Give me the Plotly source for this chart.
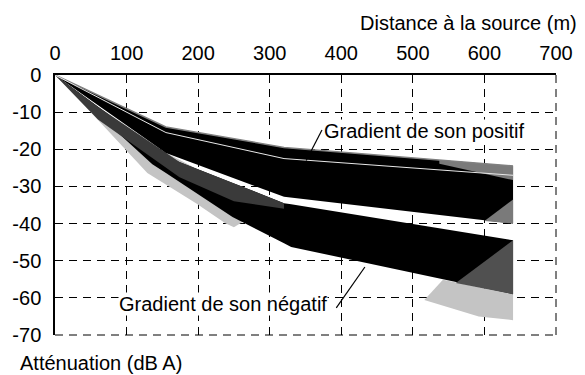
import numpy as np
import plotly.graph_objects as go

# Distance from the source (m) and attenuation bounds (dB A)
distance = [0, 155, 320, 640]
pos_top = [0, -14.0, -19.5, -24.5]
pos_mid = [0, -15.5, -22.5, -27.0]
pos_bottom = [0, -21.0, -32.8, -40.0]
neg_top = [0, -22.0, -34.5, -44.5]
neg_bottom_x = [0, 136, 248, 330, 640]
neg_bottom = [0, -24.0, -38.2, -46.3, -59.0]

# Scatter of the negative-gradient results close to the source
near_x = [0, 51, 129, 197, 238, 250, 262]
near_low = [0, -10.2, -26.4, -34.5, -39.9, -41.0, -39.6]
inner_x = [0, 60, 174, 250, 320]
inner_low = [0, -12.0, -27.5, -34.0, -36.0]

# Scatter at the far end of the range
far_x = [516, 542, 640, 640, 592]
far_y = [-60.6, -55.1, -59.0, -66.0, -65.0]
far_dark_x = [560, 640, 640]
far_dark_y = [-56.0, -44.5, -59.0]
pos_far_top_x = [537, 640, 640, 537]
pos_far_top_y = [-22.9, -24.5, -28.3, -23.9]
pos_far_low_x = [600, 640, 640]
pos_far_low_y = [-39.3, -40.0, -33.5]

x_ticks = [0, 100, 200, 300, 400, 500, 600, 700]
x_labels = ["0", "100", "200", "300", "400", "500", "600", "700"]
y_ticks = [0, -10, -20, -30, -40, -50, -60, -70]
y_labels = ["0", "-10", "-20", "-30", "-40", "-50", "-60", "-70"]

LIGHT = "#c4c4c4"
MID = "#7a7a7a"
DARK = "#3a3a3a"
BLACK = "#000000"


def band(xs, top, bottom, color):
    return go.Scatter(
        x=list(xs) + list(xs)[::-1],
        y=list(top) + list(bottom)[::-1],
        fill="toself", fillcolor=color, mode="lines",
        line=dict(width=0, color=color), hoverinfo="skip",
    )


def poly(xs, ys, color):
    return go.Scatter(x=xs, y=ys, fill="toself", fillcolor=color, mode="lines",
                      line=dict(width=0, color=color), hoverinfo="skip")


fig = go.Figure()

# negative gradient: spread, band, then inner shading
fig.add_trace(band(near_x, np.interp(near_x, distance, neg_top), near_low, LIGHT))
fig.add_trace(poly(far_x, far_y, LIGHT))
neg_x = sorted(set(distance) | set(neg_bottom_x))
fig.add_trace(band(neg_x, np.interp(neg_x, distance, neg_top),
                   np.interp(neg_x, neg_bottom_x, neg_bottom), BLACK))
fig.add_trace(band(inner_x, np.interp(inner_x, distance, neg_top), inner_low, DARK))
fig.add_trace(poly(far_dark_x, far_dark_y, "#505050"))

# positive gradient band
fig.add_trace(band(distance, pos_top, pos_bottom, BLACK))
fig.add_trace(poly(pos_far_top_x, pos_far_top_y, MID))
fig.add_trace(poly(pos_far_low_x, pos_far_low_y, MID))
fig.add_trace(go.Scatter(x=distance, y=pos_top, mode="lines",
                         line=dict(color="#808080", width=1.5), hoverinfo="skip"))
fig.add_trace(go.Scatter(x=distance, y=pos_mid, mode="lines",
                         line=dict(color="#e8e8e8", width=1), hoverinfo="skip"))

FONT = "Liberation Sans, Arial, Helvetica, sans-serif"
DASH = "8px,6px"

fig.update_layout(
    width=585, height=375,
    margin=dict(l=51, r=23, t=75, b=40),
    paper_bgcolor="white", plot_bgcolor="white",
    showlegend=False,
    font=dict(family=FONT, size=20, color="black"),
    annotations=[
        dict(text="Distance à la source (m)", xref="paper", yref="paper",
             x=1.045, y=1.2, xanchor="right", yanchor="middle", showarrow=False),
        dict(text="Atténuation (dB A)", xref="paper", yref="paper",
             x=-0.074, y=-0.108, xanchor="left", yanchor="middle", showarrow=False),
        dict(text="Gradient de son positif", x=374, y=-15.1, xanchor="left",
             yanchor="middle", showarrow=False, bgcolor="white", borderpad=0),
        dict(text="Gradient de son négatif", x=235, y=-61.7, xanchor="center",
             yanchor="middle", showarrow=False, bgcolor="white", borderpad=0),
    ],
    shapes=[
        dict(type="line", x0=373, y0=-14.8, x1=351, y1=-23.0,
             line=dict(color="black", width=1.2)),
        dict(type="line", x0=393, y0=-62.7, x1=433, y1=-51.7,
             line=dict(color="black", width=1.2)),
        # dashed right and bottom edges of the frame
        dict(type="line", xref="paper", yref="paper", x0=1, y0=0, x1=1, y1=1,
             line=dict(color="black", width=1, dash=DASH), layer="below"),
        dict(type="line", xref="paper", yref="paper", x0=0, y0=0, x1=1, y1=0,
             line=dict(color="black", width=1, dash=DASH), layer="below"),
    ],
)

fig.update_xaxes(
    side="top", range=[0, 700], tickvals=x_ticks, ticktext=x_labels,
    showgrid=True, gridcolor="black", gridwidth=1, griddash=DASH,
    showline=True, linecolor="black", linewidth=1.5, zeroline=False,
    ticks="", ticklabelstandoff=5,
)
fig.update_yaxes(
    range=[-70, 0], tickvals=y_ticks, ticktext=y_labels,
    showgrid=True, gridcolor="black", gridwidth=1, griddash=DASH,
    showline=True, linecolor="black", linewidth=1.5, zeroline=False,
    ticks="", ticklabelstandoff=8,
)

fig.write_html("out.html")
